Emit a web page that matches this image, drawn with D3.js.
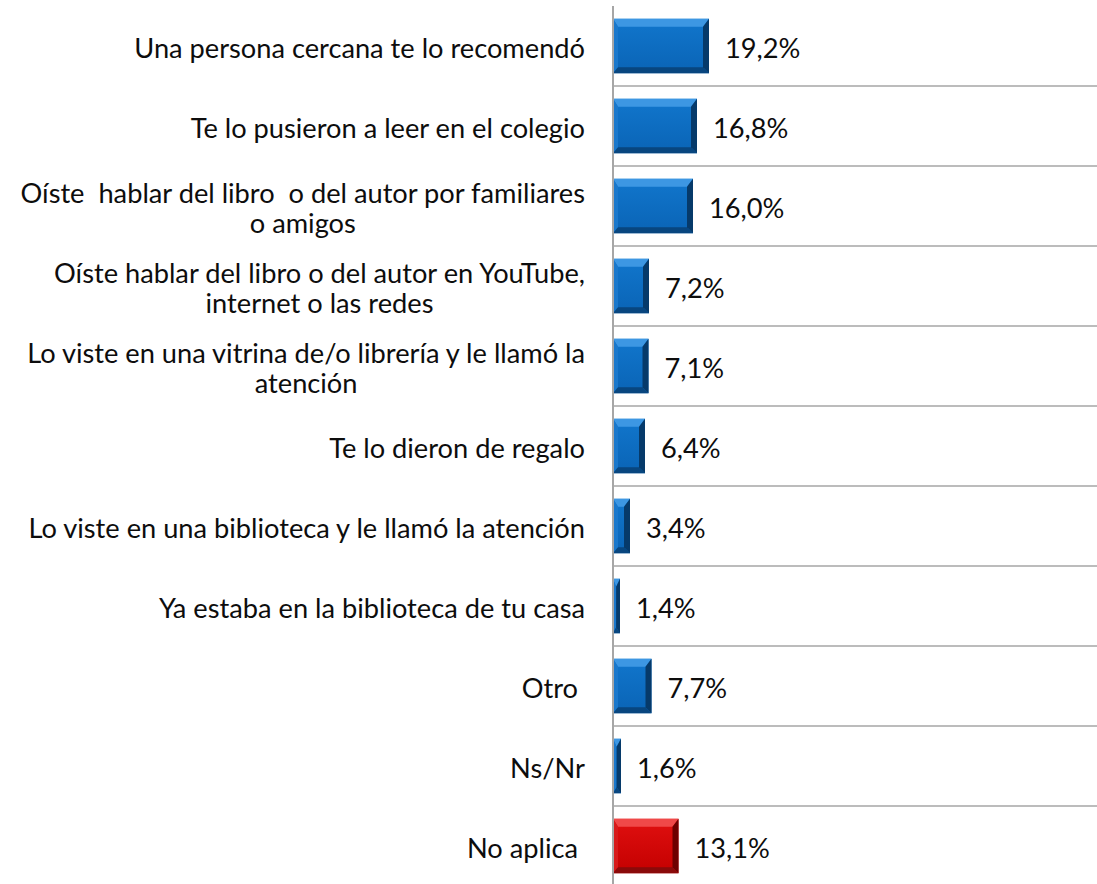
<!DOCTYPE html>
<html>
  <head>
    <meta charset="utf-8">
    <title>Cómo llegaste al libro</title>
    <script src="https://d3js.org/d3.v7.min.js"></script>
    <style>
      body { margin: 0; background: #fff; }
      svg text { font-family: Lato, "Open Sans", sans-serif; fill: #0d0d0d; white-space: pre; }
    </style>
  </head>
  <body>
    <svg id="chart" width="1097" height="884"></svg>
    <script>
      // data
      var labels = [
        ["Una persona cercana te lo recomendó"],
        ["Te lo pusieron a leer en el colegio"],
        ["Oíste  hablar del libro  o del autor por familiares", "o amigos"],
        ["Oíste hablar del libro o del autor en YouTube,", "internet o las redes"],
        ["Lo viste en una vitrina de/o librería y le llamó la", "atención"],
        ["Te lo dieron de regalo"],
        ["Lo viste en una biblioteca y le llamó la atención"],
        ["Ya estaba en la biblioteca de tu casa"],
        ["Otro "],
        ["Ns/Nr"],
        ["No aplica "]
      ];
      var values = [19.2, 16.8, 16.0, 7.2, 7.1, 6.4, 3.4, 1.4, 7.7, 1.6, 13.1];
      var highlight = ["No aplica "];

      var width = 1097, height = 884;
      var axisX = 613, labelRight = 585;
      var svg = d3.select("#chart");

      var keys = labels.map(function(d) { return d.join(" "); });
      var y = d3.scaleBand()
        .domain(keys)
        .range([6, 886])
        .paddingInner(0.32)
        .paddingOuter(0.16);
      var x = d3.scaleLinear()
        .domain([0, 96.8])
        .range([axisX, width]);

      // font size fitted so the widest single line matches the picture
      var probe = svg.append("text").style("font-size", "28px").text(labels[0][0]);
      var fontSize = 28 * 451 / probe.node().getComputedTextLength();
      probe.remove();

      // gridlines between categories
      var step = y.step();
      svg.append("g")
        .selectAll("line")
          .data(keys.slice(1))
        .enter().append("line")
          .attr("x1", axisX)
          .attr("x2", width)
          .attr("y1", function(d) { return y(d) - step * y.paddingInner() / 2; })
          .attr("y2", function(d) { return y(d) - step * y.paddingInner() / 2; })
          .style("stroke", "#a6a6a6")
          .style("stroke-width", 1.5);

      // bar colours
      var defs = svg.append("defs");
      var palettes = {
        blue: { face: ["#1176cc", "#0a64b6"], top: "#3d97e3", left: "#1a78cc", right: "#063a6a", bottom: "#08467f" },
        red: { face: ["#e01010", "#c40000"], top: "#f04848", left: "#d81a1a", right: "#6e0000", bottom: "#8a0a0a" }
      };
      Object.keys(palettes).forEach(function(k) {
        var g = defs.append("linearGradient")
          .attr("id", "face-" + k)
          .attr("x1", 0).attr("x2", 0).attr("y1", 0).attr("y2", 1);
        g.append("stop").attr("offset", "0%").attr("stop-color", palettes[k].face[0]);
        g.append("stop").attr("offset", "100%").attr("stop-color", palettes[k].face[1]);
      });

      var bars = svg.append("g")
        .selectAll("g")
          .data(values.map(function(v, i) { return { key: keys[i], value: v, raw: labels[i] }; }))
        .enter().append("g");

      bars.each(function(d) {
        var g = d3.select(this);
        var k = highlight.indexOf(d.raw[0]) >= 0 ? "red" : "blue";
        var p = palettes[k];
        var x0 = x(0), x1 = x(d.value), y0 = y(d.key), y1 = y0 + y.bandwidth();
        var w = x1 - x0;
        var bl = 5, br = 6, bt = 8, bb = 6;
        if (bl + br > w) { bl = w * 0.45; br = w * 0.55; }
        var ix0 = x0 + bl, ix1 = x1 - br, iy0 = y0 + bt, iy1 = y1 - bb;
        g.append("rect")
          .attr("x", x0).attr("y", y0)
          .attr("width", w).attr("height", y1 - y0)
          .style("fill", "url(#face-" + k + ")");
        var polys = [
          [[x0, y0], [x1, y0], [ix1, iy0], [ix0, iy0], p.top],
          [[x0, y0], [ix0, iy0], [ix0, iy1], [x0, y1], p.left],
          [[x1, y0], [ix1, iy0], [ix1, iy1], [x1, y1], p.right],
          [[x0, y1], [x1, y1], [ix1, iy1], [ix0, iy1], p.bottom]
        ];
        polys.forEach(function(q) {
          g.append("polygon")
            .attr("points", q.slice(0, 4).map(function(pt) { return pt.join(","); }).join(" "))
            .style("fill", q[4]);
        });
        g.append("text")
          .attr("x", x1 + 16)
          .attr("y", y0 + y.bandwidth() / 2 + 2)
          .attr("dy", "0.35em")
          .style("font-size", fontSize + "px")
          .text(d3.format(".1f")(d.value).replace(".", ",") + "%");
      });

      // axis line
      svg.append("line")
        .attr("x1", axisX).attr("x2", axisX)
        .attr("y1", 6).attr("y2", height)
        .style("stroke", "#a6a6a6")
        .style("stroke-width", 2);

      // category labels: wrapped lines centred on the widest line, right aligned block
      var lineGap = 30;
      labels.forEach(function(lines, i) {
        var cy = y(keys[i]) + y.bandwidth() / 2 + 2;
        var t = svg.append("text")
          .style("font-size", fontSize + "px")
          .attr("text-anchor", "middle");
        var spans = lines.map(function(s, j) {
          return t.append("tspan")
            .attr("y", cy + (j - (lines.length - 1) / 2) * lineGap)
            .attr("dy", "0.35em")
            .text(s);
        });
        var widest = d3.max(spans, function(s) { return s.node().getComputedTextLength(); });
        spans.forEach(function(s) { s.attr("x", labelRight - widest / 2); });
      });
    </script>
  </body>
</html>
